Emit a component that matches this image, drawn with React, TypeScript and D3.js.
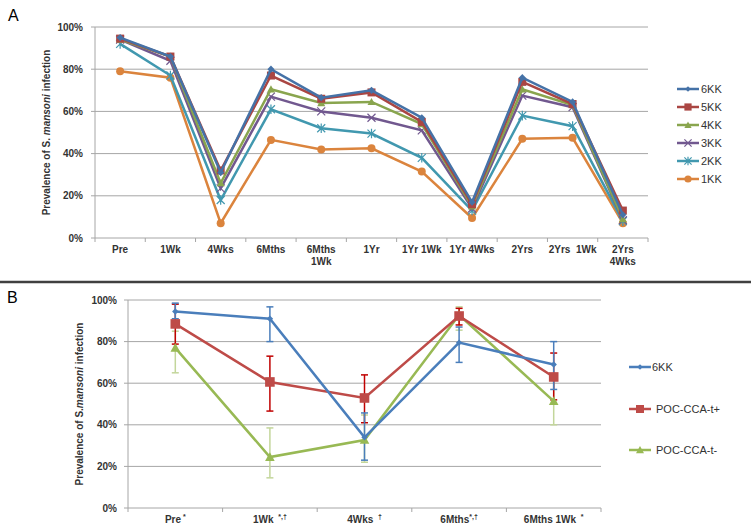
import React from "react";
import * as d3 from "d3";

// ---------- Panel A data ----------
const catsA = ["Pre", "1Wk", "4Wks", "6Mths|1Wk0", "6Mths 1Wk", "1Yr", "1Yr 1Wk", "1Yr 4Wks", "2Yrs", "2Yrs  1Wk", "2Yrs|4Wks"];
const labelsA = [["Pre"], ["1Wk"], ["4Wks"], ["6Mths"], ["6Mths", "1Wk"], ["1Yr"], ["1Yr 1Wk"], ["1Yr 4Wks"], ["2Yrs"], ["2Yrs  1Wk"], ["2Yrs", "4Wks"]];
const kk6 = [95, 86, 31, 80, 66.5, 70, 57, 17, 76, 64.5, 11];
const kk5 = [94.5, 86, 32, 77, 66, 69, 55, 16, 74, 63.5, 13];
const kk4 = [94, 86, 26, 70.5, 64, 64.5, 54, 15, 70.5, 63, 9];
const kk3 = [94, 84, 23.5, 67, 60, 57, 51, 14, 67.5, 62, 8.5];
const kk2 = [92, 77, 18, 61, 52, 49.5, 38, 13, 58, 53, 8];
const kk1 = [79, 76, 7, 46.5, 42, 42.5, 31.5, 9.5, 47, 47.5, 7];
const namesA = ["6KK", "5KK", "4KK", "3KK", "2KK", "1KK"];
const ticksY = [0, 20, 40, 60, 80, 100];

// ---------- Panel B data ----------
const labelsB = [["Pre", " *"], ["1Wk ", " *,\u2020"], ["4Wks ", " \u2020"], ["6Mths", "*,\u2020"], ["6Mths 1Wk ", " *"]];
const b6KK = [94.5, 91, 34, 79.5, 69];
const b6KKlo = [91, 80, 23, 70, 57];
const b6KKhi = [98.5, 96.7, 45.7, 87, 80];
const bPos = [88.5, 60.6, 52.9, 92.3, 63];
const bPosLo = [78.8, 46.6, 41, 88, 52];
const bPosHi = [98, 73, 64, 96, 74.5];
const bNeg = [77, 24.5, 32.7, 92.8, 51.4];
const bNegLo = [65, 14.5, 22, 85.5, 40];
const bNegHi = [85, 38.5, 44.7, 96.7, 62];
const namesB = ["6KK", "POC-CCA-t+", "POC-CCA-t-"];

const FONT = "'Liberation Sans', Arial, sans-serif";
const colA = ["#4572A7", "#AA4643", "#89A54E", "#71588F", "#4198AF", "#DB843D"];
const colB = ["#4A7EBB", "#BE4B48", "#98B954"];
const errColB = ["#4A7EBB", "#C00000", "#C3D69B"];

type Shape = "diamond" | "square" | "triangle" | "x" | "star" | "circle";
const shapesA: Shape[] = ["diamond", "square", "triangle", "x", "star", "circle"];

function Marker({ shape, x, y, color, s = 1 }: { shape: Shape; x: number; y: number; color: string; s?: number }) {
  const r = 4 * s;
  switch (shape) {
    case "diamond":
      return <path d={`M${x},${y - r}L${x + r},${y}L${x},${y + r}L${x - r},${y}Z`} fill={color} />;
    case "square":
      return <rect x={x - r} y={y - r} width={2 * r} height={2 * r} fill={color} />;
    case "triangle":
      return <path d={`M${x},${y - r}L${x + r},${y + r * 0.8}L${x - r},${y + r * 0.8}Z`} fill={color} />;
    case "x":
      return <path d={`M${x - r},${y - r}L${x + r},${y + r}M${x - r},${y + r}L${x + r},${y - r}`} stroke={color} strokeWidth={1.2} />;
    case "star":
      return (
        <path
          d={`M${x - r},${y - r}L${x + r},${y + r}M${x - r},${y + r}L${x + r},${y - r}M${x},${y - r * 1.2}L${x},${y + r * 1.2}`}
          stroke={color}
          strokeWidth={1.2}
        />
      );
    case "circle":
      return <circle cx={x} cy={y} r={r} fill={color} />;
  }
}

function PanelA() {
  const series = [kk6, kk5, kk4, kk3, kk2, kk1];
  const x0 = 95, x1 = 648, yTop = 27, yBot = 238;
  const xb = d3.scaleBand<number>().domain(d3.range(catsA.length)).range([x0, x1]);
  const y = d3.scaleLinear().domain([0, 100]).range([yBot, yTop]);
  const cx = (i: number) => (xb(i) as number) + xb.bandwidth() / 2;
  const line = d3.line<number>().x((_, i) => cx(i)).y((v) => y(v));
  const order = [5, 4, 3, 2, 1, 0];
  return (
    <g>
      <text x={8} y={21} fontFamily={FONT} fontSize={16}>A</text>
      {ticksY.map((t) => (
        <g key={t}>
          {t > 0 && <line x1={x0} x2={x1} y1={y(t)} y2={y(t)} stroke="#A6A6A6" strokeWidth={1} />}
          <line x1={x0 - 4} x2={x0} y1={y(t)} y2={y(t)} stroke="#A6A6A6" />
          <text x={83} y={y(t)} dy="0.35em" textAnchor="end" fontFamily={FONT} fontSize={10} fontWeight="bold" fill="#333">{t}%</text>
        </g>
      ))}
      <line x1={x0} x2={x0} y1={yTop} y2={yBot} stroke="#A6A6A6" />
      <line x1={x0} x2={x1} y1={yBot} y2={yBot} stroke="#A6A6A6" />
      {d3.range(catsA.length + 1).map((i) => {
        const xx = x0 + i * xb.bandwidth();
        return <line key={i} x1={xx} x2={xx} y1={yBot} y2={yBot + 4} stroke="#A6A6A6" />;
      })}
      {labelsA.map((ls, i) =>
        ls.map((l, j) => (
          <text key={i + "-" + j} x={cx(i)} y={253 + j * 12} textAnchor="middle" fontFamily={FONT} fontSize={10} fontWeight="bold" fill="#333" style={{ whiteSpace: "pre" }}>{l}</text>
        ))
      )}
      <text transform={`translate(50,${(yTop + yBot) / 2}) rotate(-90)`} textAnchor="middle" fontFamily={FONT} fontSize={10} fontWeight="bold" fill="#333">
        Prevalence of S. <tspan fontStyle="italic">mansoni</tspan> infection
      </text>
      {order.map((k) => (
        <g key={k}>
          <path d={line(series[k]) as string} fill="none" stroke={colA[k]} strokeWidth={2.5} />
          {series[k].map((v, i) => (
            <Marker key={i} shape={shapesA[k]} x={cx(i)} y={y(v)} color={colA[k]} s={k === 0 ? 0.9 : 1} />
          ))}
        </g>
      ))}
      {namesA.map((n, k) => {
        const ly = 89 + k * 18;
        return (
          <g key={n}>
            <line x1={677} x2={699} y1={ly} y2={ly} stroke={colA[k]} strokeWidth={2.5} />
            <Marker shape={shapesA[k]} x={688} y={ly} color={colA[k]} s={k === 0 ? 0.7 : 0.9} />
            <text x={701} y={ly} dy="0.35em" fontFamily={FONT} fontSize={11} fill="#333">{n}</text>
          </g>
        );
      })}
    </g>
  );
}

function PanelB() {
  const series = [b6KK, bPos, bNeg];
  const los = [b6KKlo, bPosLo, bNegLo];
  const his = [b6KKhi, bPosHi, bNegHi];
  const shapes: Shape[] = ["diamond", "square", "triangle"];
  const x0 = 128, x1 = 601, yTop = 300, yBot = 508;
  const xb = d3.scaleBand<number>().domain(d3.range(labelsB.length)).range([x0, x1]);
  const y = d3.scaleLinear().domain([0, 100]).range([yBot, yTop]);
  const cx = (i: number) => (xb(i) as number) + xb.bandwidth() / 2;
  const line = d3.line<number>().x((_, i) => cx(i)).y((v) => y(v));
  const order = [2, 1, 0];
  return (
    <g>
      <line x1={0} x2={751} y1={282} y2={282} stroke="#404040" strokeWidth={2.5} />
      <text x={7} y={303} fontFamily={FONT} fontSize={16}>B</text>
      {ticksY.map((t) => (
        <g key={t}>
          {t > 0 && <line x1={x0} x2={x1} y1={y(t)} y2={y(t)} stroke="#A6A6A6" strokeWidth={1} />}
          <line x1={x0 - 4} x2={x0} y1={y(t)} y2={y(t)} stroke="#A6A6A6" />
          <text x={117} y={y(t)} dy="0.35em" textAnchor="end" fontFamily={FONT} fontSize={10} fontWeight="bold" fill="#333">{t}%</text>
        </g>
      ))}
      <line x1={x0} x2={x0} y1={yTop} y2={yBot} stroke="#A6A6A6" />
      <line x1={x0} x2={x1} y1={yBot} y2={yBot} stroke="#A6A6A6" />
      {d3.range(labelsB.length + 1).map((i) => {
        const xx = x0 + i * xb.bandwidth();
        return <line key={i} x1={xx} x2={xx} y1={yBot} y2={yBot + 4} stroke="#A6A6A6" />;
      })}
      {labelsB.map((l, i) => (
        <text key={i} x={cx(i)} y={523} textAnchor="middle" fontFamily={FONT} fontSize={10} fontWeight="bold" fill="#333" style={{ whiteSpace: "pre" }}>
          {l[0]}
          <tspan fontSize={7} dy={-4}>{l[1]}</tspan>
        </text>
      ))}
      <text transform={`translate(83,${(yTop + yBot) / 2}) rotate(-90)`} textAnchor="middle" fontFamily={FONT} fontSize={10} fontWeight="bold" fill="#333">
        Prevalence of S.<tspan fontStyle="italic">mansoni</tspan> infection
      </text>
      {order.map((k) => (
        <g key={k}>
          {series[k].map((v, i) => (
            <g key={i} stroke={errColB[k]} strokeWidth={1.5}>
              <line x1={cx(i)} x2={cx(i)} y1={y(los[k][i])} y2={y(his[k][i])} />
              <line x1={cx(i) - 3.5} x2={cx(i) + 3.5} y1={y(los[k][i])} y2={y(los[k][i])} />
              <line x1={cx(i) - 3.5} x2={cx(i) + 3.5} y1={y(his[k][i])} y2={y(his[k][i])} />
            </g>
          ))}
        </g>
      ))}
      {order.map((k) => (
        <g key={"l" + k}>
          <path d={line(series[k]) as string} fill="none" stroke={colB[k]} strokeWidth={2.5} />
          {series[k].map((v, i) => (
            <Marker key={i} shape={shapes[k]} x={cx(i)} y={y(v)} color={colB[k]} s={k === 0 ? 0.8 : 1.2} />
          ))}
        </g>
      ))}
      {namesB.map((n, k) => {
        const ly = [367, 409, 450][k];
        return (
          <g key={n}>
            <line x1={629} x2={651} y1={ly} y2={ly} stroke={colB[k]} strokeWidth={2.5} />
            <Marker shape={shapes[k]} x={640} y={ly} color={colB[k]} s={k === 0 ? 0.7 : 1} />
            <text x={k === 0 ? 652 : 656} y={ly} dy="0.35em" fontFamily={FONT} fontSize={11} fill="#333">{n}</text>
          </g>
        );
      })}
    </g>
  );
}

export default function App() {
  return (
    <svg width={751} height={527} style={{ position: "absolute", left: 0, top: 0, background: "#fff" }}>
      <rect width={751} height={527} fill="#fff" />
      <PanelA />
      <PanelB />
    </svg>
  );
}
